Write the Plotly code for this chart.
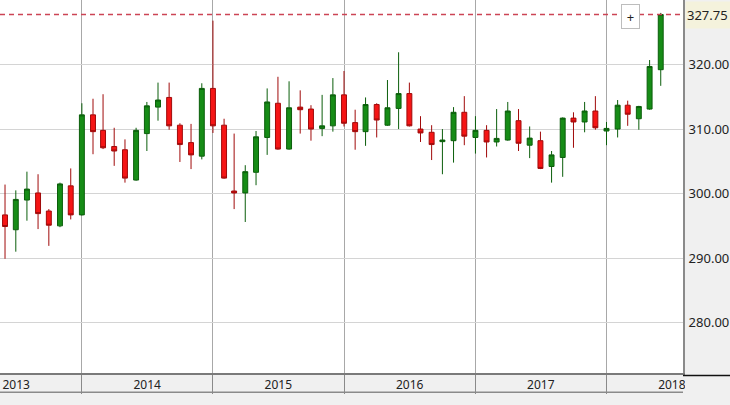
import plotly.graph_objects as go
import pandas as pd

months = pd.date_range("2013-05-01", "2018-06-01", freq="MS")

opens = [299.6, 296.7, 294.4, 299.0, 300.1, 297.3, 295.0, 301.2,
         296.7, 312.2, 309.8, 307.3, 306.8, 302.1, 309.3, 313.4, 314.9, 310.6, 307.9, 305.8,
         316.3, 310.6, 300.4, 300.1, 303.3, 308.7, 314.0, 306.9, 313.4, 313.1, 310.1, 310.5,
         315.3, 311.0, 309.6, 313.8, 310.6, 313.2, 315.5, 310.0, 309.5, 308.05, 308.2, 312.6,
         308.7, 309.8, 308.0, 308.3, 311.3, 307.5, 308.2, 304.2, 305.6, 311.7, 311.1, 312.8,
         309.7, 310.0, 313.7, 311.6, 313.1, 319.2]
highs = [300.5, 301.4, 300.5, 303.4, 303.0, 297.6, 301.7, 303.9,
         314.0, 314.7, 315.4, 310.2, 308.4, 310.2, 314.2, 317.2, 317.2, 310.9, 310.8, 317.1,
         326.8, 311.6, 309.3, 304.4, 309.7, 316.3, 318.1, 317.4, 316.0, 313.7, 315.3, 317.9,
         319.0, 313.0, 314.9, 314.0, 317.6, 321.9, 317.2, 312.0, 310.6, 310.0, 313.4, 315.1,
         312.0, 310.6, 313.1, 314.2, 313.1, 310.4, 309.6, 306.6, 311.8, 312.6, 314.2, 315.1,
         311.1, 314.5, 314.4, 313.6, 320.7, 328.0]
lows = [295.5, 289.9, 291.0, 295.8, 294.5, 291.9, 294.8, 296.0,
        296.6, 306.1, 306.9, 304.3, 301.7, 302.0, 306.6, 311.3, 309.9, 304.9, 303.8, 305.3,
        309.4, 302.3, 297.6, 295.6, 301.3, 306.0, 306.8, 306.8, 309.3, 308.2, 308.9, 309.6,
        310.4, 306.8, 307.4, 308.7, 310.5, 310.0, 310.4, 308.0, 305.2, 303.0, 304.8, 307.5,
        306.2, 305.6, 307.3, 308.2, 306.6, 305.5, 303.8, 301.7, 302.6, 307.1, 309.5, 309.9,
        307.5, 308.7, 310.5, 309.9, 313.0, 316.7]
closes = [296.5, 294.9, 299.1, 300.7, 296.9, 295.1, 301.5, 296.7,
          312.2, 309.6, 307.1, 306.6, 302.4, 309.8, 313.6, 314.5, 310.5, 307.6, 306.0, 316.3,
          310.5, 302.4, 300.1, 303.4, 308.8, 314.2, 306.9, 313.3, 313.0, 310.0, 310.5, 315.3,
          310.9, 309.6, 313.8, 311.4, 313.3, 315.5, 310.5, 309.4, 307.6, 308.3, 312.6, 308.9,
          309.8, 308.0, 308.55, 312.8, 307.8, 308.6, 303.9, 306.0, 311.7, 311.1, 312.8, 310.2,
          310.1, 313.7, 312.3, 313.5, 319.7, 327.75]

price_ticks = [280, 290, 300, 310, 320]
year_labels = ["2013", "2014", "2015", "2016", "2017", "2018"]
year_mid = [f"{y}-07-02" for y in year_labels]
last_price = closes[-1]

FONT = "Noto Sans"

fig = go.Figure(go.Candlestick(
    x=months, open=opens, high=highs, low=lows, close=closes,
    increasing=dict(line=dict(color="#0b5e0b", width=1), fillcolor="#168c16"),
    decreasing=dict(line=dict(color="#a00a0a", width=1), fillcolor="#f51515"),
    whiskerwidth=0, showlegend=False, hoverinfo="skip",
))

fig.update_layout(
    width=730, height=405,
    margin=dict(l=0, r=47, t=0, b=32),
    paper_bgcolor="#f0f0f0", plot_bgcolor="#ffffff",
    font=dict(family=FONT, size=12, color="#222222"),
    showlegend=False,
    hovermode=False,
    xaxis=dict(
        type="date",
        range=["2013-05-18", "2018-08-02"],
        rangeslider=dict(visible=False),
        tickmode="array", tickvals=year_mid, ticktext=year_labels,
        ticks="", showgrid=False, zeroline=False,
        tickfont=dict(family=FONT, size=12, color="#222222"),
        showline=True, linecolor="#7a7a7a", linewidth=2,
        minor=dict(dtick="M12", tick0="2014-01-01", showgrid=True,
                   gridcolor="#a8a8a8", gridwidth=1,
                   ticks="outside", ticklen=19, tickcolor="#8a8a8a", tickwidth=1),
        fixedrange=True,
    ),
    yaxis=dict(
        side="right",
        range=[272.2, 330.0],
        tickmode="array", tickvals=price_ticks,
        tickformat=".2f",
        ticks="outside", ticklen=1, tickcolor="rgba(0,0,0,0)",
        showgrid=True, gridcolor="#d4d4d4", gridwidth=1,
        zeroline=False,
        showline=True, linecolor="#8a8a8a", linewidth=2,
        tickfont=dict(family=FONT, size=13, color="#222222"),
        fixedrange=True,
    ),
    shapes=[
        dict(type="line", xref="paper", yref="y", x0=0, x1=1,
             y0=last_price, y1=last_price,
             line=dict(color="#cc4455", width=1.5, dash="5px,4px")),
        dict(type="rect", xref="paper", yref="paper", x0=1.003, x1=1.08,
             y0=-0.1, y1=-0.002, fillcolor="#f0f0f0", line=dict(width=0), layer="above"),
        dict(type="line", xref="paper", yref="paper", x0=1.0, x1=1.08,
             y0=-0.007, y1=-0.007, line=dict(color="#111111", width=1.5), layer="above"),
        dict(type="line", xref="paper", yref="paper", x0=0, x1=1,
             y0=-0.0515, y1=-0.0515, line=dict(color="#8a8a8a", width=1.5)),
    ],
    annotations=[
        dict(xref="paper", yref="y", x=1.0, y=last_price, xanchor="left", yanchor="middle",
             text=f"{last_price:.2f}", showarrow=False, bgcolor="#f4f2dc",
             width=44, height=24, align="left", xshift=2,
             font=dict(family=FONT, size=13, color="#222222")),
        dict(xref="paper", yref="paper", x=630 / 683, y=1 - 16.5 / 373,
             xanchor="center", yanchor="middle", text="+", showarrow=False,
             bgcolor="#ffffff", bordercolor="#bdbdbd", borderwidth=1, borderpad=1,
             width=15, height=21, font=dict(family=FONT, size=13, color="#222222")),
    ],
)

fig.write_html("out.html",
               config={"displayModeBar": False, "staticPlot": True},
               post_script="document.body.style.margin='0px';document.body.style.overflow='hidden';")
